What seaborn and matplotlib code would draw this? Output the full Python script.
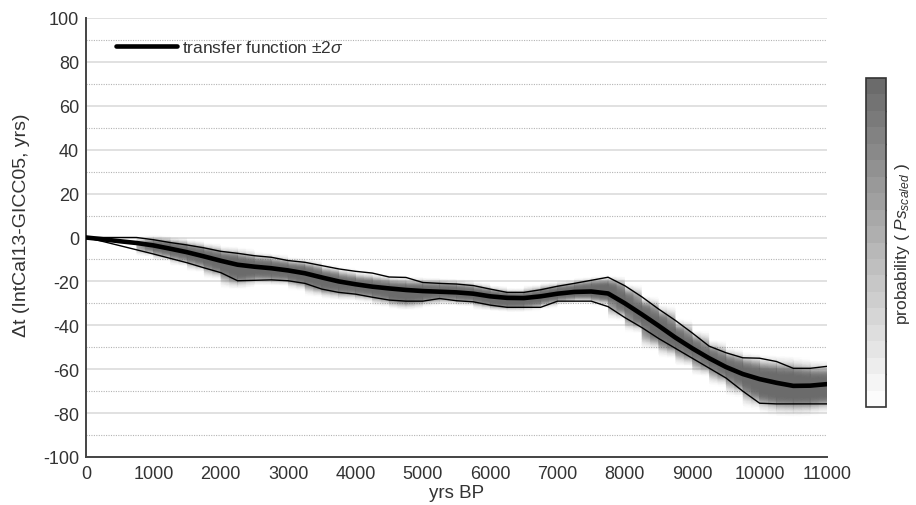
import numpy as np
import pandas as pd
import matplotlib
matplotlib.use("Agg")
import matplotlib.pyplot as plt
import seaborn as sns
from matplotlib.colors import LinearSegmentedColormap, ListedColormap
from matplotlib.ticker import MultipleLocator
import matplotlib.cm as cm
import matplotlib.colors as mcolors

# ---------------- data ----------------
years = [0, 250, 500, 750, 1000, 1250, 1500, 1750, 2000, 2250, 2500, 2750,
         3000, 3250, 3500, 3750, 4000, 4250, 4500, 4750, 5000, 5250, 5500,
         5750, 6000, 6250, 6500, 6750, 7000, 7250, 7500, 7750, 8000, 8250,
         8500, 8750, 9000, 9250, 9500, 9750, 10000, 10250, 10500, 10750, 11000]

transfer_mean = [0, -0.8, -1.7, -2.5, -3.6, -5.1, -6.7, -8.6, -10.6, -12.4,
                 -13.3, -14.0, -15.0, -16.3, -18.2, -20.0, -21.3, -22.4, -23.2,
                 -23.9, -24.4, -24.7, -25.0, -25.6, -26.8, -27.5, -27.6, -26.8,
                 -25.6, -24.8, -24.6, -25.5, -30.0, -35.0, -40.2, -45.6, -50.5,
                 -55.0, -59.0, -62.2, -64.5, -66.2, -67.6, -67.5, -66.8]

upper_2sigma = [0, 0, 0, 0, -1.0, -2.3, -3.4, -4.7, -6.3, -7.2, -8.3, -9.0,
                -10.5, -11.3, -12.8, -14.3, -15.4, -16.2, -18.0, -18.2, -20.5,
                -20.9, -21.2, -21.9, -23.5, -25.0, -25.0, -23.8, -22.2, -20.9,
                -19.5, -18.1, -22.0, -27.0, -32.6, -37.8, -43.5, -49.5, -52.5,
                -54.8, -55.0, -56.5, -59.6, -59.6, -58.7]

lower_2sigma = [0, -1.8, -3.7, -5.6, -7.5, -9.5, -11.5, -13.8, -16.0, -19.7,
                -19.5, -19.3, -19.7, -20.9, -23.5, -25.0, -25.8, -27.2, -28.5,
                -29.0, -29.0, -27.8, -28.8, -29.3, -30.8, -31.8, -31.8, -31.8,
                -29.0, -29.0, -29.0, -31.5, -36.5, -41.0, -46.0, -50.5, -55.0,
                -59.5, -64.0, -70.0, -75.5, -75.8, -75.8, -75.8, -75.8]

# probability cloud: centre, spread (yrs) and level (0-1) read at the same years
cloud_center = [0, -0.8, -1.7, -2.5, -3.8, -5.3, -7.0, -9.0, -11.5, -14.0,
                -14.0, -14.5, -15.5, -17.0, -19.5, -21.0, -22.0, -23.0, -24.5,
                -25.5, -25.0, -24.5, -25.0, -25.8, -27.5, -28.5, -28.5, -27.0,
                -25.5, -24.5, -24.0, -24.5, -29.5, -35.0, -41.0, -46.0, -50.5,
                -55.0, -59.0, -62.5, -66.0, -67.5, -68.0, -68.5, -68.0]
cloud_spread = [1, 1, 1, 1, 2.6, 3.0, 3.3, 3.6, 4.0, 5.0, 4.0, 3.8, 3.5, 3.8,
                4.0, 4.0, 3.6, 3.6, 3.8, 4.0, 3.6, 3.2, 3.2, 3.0, 3.0, 2.8,
                2.8, 3.0, 2.8, 2.8, 3.2, 3.8, 4.5, 4.5, 5.5, 4.8, 4.5, 4.5,
                4.8, 5.5, 6.5, 7.0, 7.0, 6.5, 6.0]
cloud_level = [0, 0, 0, 0, 0.45, 0.5, 0.5, 0.55, 0.6, 0.75, 0.55, 0.55, 0.5,
               0.65, 0.6, 0.5, 0.45, 0.5, 0.55, 0.65, 0.55, 0.45, 0.5, 0.5,
               0.6, 0.65, 0.55, 0.5, 0.5, 0.5, 0.55, 0.7, 0.55, 0.6, 0.7, 0.6,
               0.5, 0.5, 0.5, 0.55, 0.7, 0.75, 0.75, 0.7, 0.65]

y_ticks = [-100, -80, -60, -40, -20, 0, 20, 40, 60, 80, 100]
x_ticks = [0, 1000, 2000, 3000, 4000, 5000, 6000, 7000, 8000, 9000, 10000, 11000]

# ---------------- style ----------------
sns.set_style("white")
plt.rcParams["font.family"] = ["Liberation Sans", "DejaVu Sans"]
plt.rcParams["mathtext.fontset"] = "custom"
plt.rcParams["mathtext.rm"] = "Liberation Sans"
plt.rcParams["mathtext.it"] = "Liberation Sans:italic"
text_col = "#333333"

fig = plt.figure(figsize=(9.16, 5.06), dpi=100)
ax = fig.add_axes([86 / 916, 1 - 458 / 506, (827 - 86) / 916, (458 - 19) / 506])

# grid
ax.yaxis.set_major_locator(MultipleLocator(20))
ax.yaxis.set_minor_locator(MultipleLocator(10))
ax.xaxis.set_major_locator(MultipleLocator(1000))
ax.xaxis.set_minor_locator(MultipleLocator(500))
ax.grid(axis="y", which="major", color="#dcdcdc", lw=1.2, ls="-", zorder=0)
ax.grid(axis="y", which="minor", color="#b4b4b4", lw=0.8, ls=(0, (1, 1.2)), zorder=0)
ax.grid(axis="x", which="both", visible=False)
ax.set_axisbelow(True)

# probability cloud (constant gray with alpha ramp over white)
gray = "#6b6b6b"
cloud_cmap = LinearSegmentedColormap.from_list(
    "cloud", [mcolors.to_rgba(gray, 0.0), mcolors.to_rgba(gray, 1.0)])
yy = np.linspace(-100, 100, 801)
X, Y = np.meshgrid(np.array(years, float), yy)
C = np.array(cloud_center)[None, :]
S = np.array(cloud_spread)[None, :]
L = np.array(cloud_level)[None, :]
Z = L * np.exp(-np.abs((Y - C) / S) ** 2.5)
ax.pcolormesh(X, Y, Z, cmap=cloud_cmap, vmin=0, vmax=1, shading="gouraud",
              zorder=1, rasterized=True)

df = pd.DataFrame({"years": years, "mean": transfer_mean,
                   "upper": upper_2sigma, "lower": lower_2sigma})
sns.lineplot(data=df, x="years", y="upper", ax=ax, color="black", lw=1.0, zorder=3)
sns.lineplot(data=df, x="years", y="lower", ax=ax, color="black", lw=1.0, zorder=3)
sns.lineplot(data=df, x="years", y="mean", ax=ax, color="black", lw=3.3,
             zorder=4, label=r"transfer function $\pm 2\sigma$")

ax.set_xlim(0, 11000)
ax.set_ylim(-100, 100)
ax.set_xticks(x_ticks)
ax.set_yticks(y_ticks)
ax.set_xticklabels([str(v) for v in x_ticks])
ax.set_yticklabels([str(v) for v in y_ticks])

for s in ["top", "right"]:
    ax.spines[s].set_visible(False)
for s in ["left", "bottom"]:
    ax.spines[s].set_color("#444444")
    ax.spines[s].set_linewidth(1.4)

ax.tick_params(axis="both", which="major", direction="in", length=6, width=1.1,
               color="#444444", labelsize=13, labelcolor=text_col, pad=5)
ax.tick_params(axis="both", which="minor", direction="in", length=3.5, width=1.0,
               color="#444444")
ax.tick_params(axis="x", which="major", pad=6)

ax.set_xlabel("yrs BP", fontsize=13.5, color=text_col, labelpad=1)
ax.set_ylabel("Δt (IntCal13-GICC05, yrs)", fontsize=14, color=text_col)
ax.yaxis.set_label_coords(-0.075, 0.53)

leg = ax.legend(loc="center left", bbox_to_anchor=(30 / 741, (458 - 48) / 439),
                frameon=False, fontsize=12.5, handlelength=3.5, handletextpad=0.3,
                borderpad=0, borderaxespad=0)
for t in leg.get_texts():
    t.set_color(text_col)

# colorbar
cax = fig.add_axes([866 / 916, 1 - 408 / 506, 20 / 916, (408 - 79) / 506])
bar_cmap = ListedColormap(
    [mcolors.to_rgb(c) for c in
     LinearSegmentedColormap.from_list("bar", ["#ffffff", gray])(np.linspace(0.02, 1, 20))])
sm = cm.ScalarMappable(norm=mcolors.Normalize(0, 1), cmap=bar_cmap)
cb = fig.colorbar(sm, cax=cax)
cb.set_ticks([0.1, 0.2, 0.3, 0.4, 0.5, 0.6, 0.7, 0.8, 0.9])
cb.ax.tick_params(direction="in", length=3, width=1, color="#333333",
                  labelright=False, right=True)
cb.outline.set_edgecolor("#333333")
cb.outline.set_linewidth(1.2)
cb.set_label(r"probability ( $Ps_{scaled}$ )", fontsize=12.5, color=text_col, labelpad=5)

fig.savefig("out.png", dpi=100)
